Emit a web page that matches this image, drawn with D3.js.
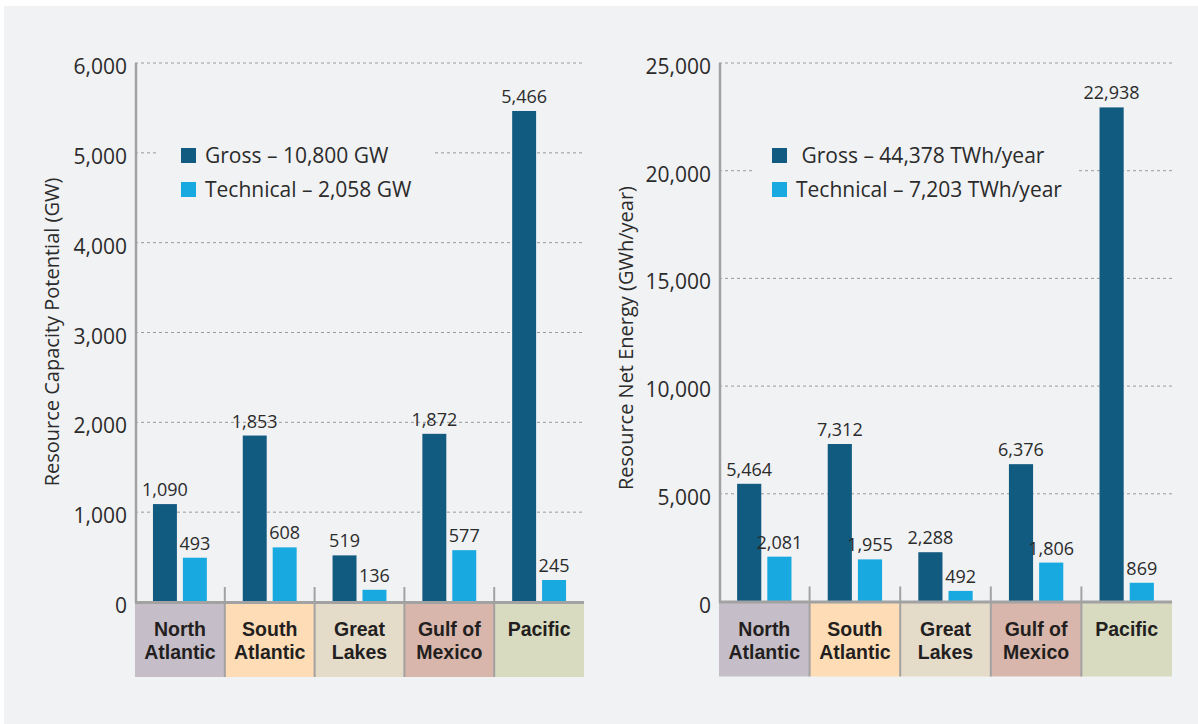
<!DOCTYPE html>
<html>
<head>
<meta charset="utf-8">
<script src="https://cdn.jsdelivr.net/npm/d3@7"></script>
<style>
  html, body { margin: 0; padding: 0; background: #ffffff; }
  svg { display: block; }
  text { font-family: "Open Sans", "DejaVu Sans", sans-serif; }
  text.cat { font-family: "Liberation Sans", Arial, sans-serif; font-weight: 700; }
</style>
</head>
<body>
<svg id="chart" width="1198" height="724"></svg>
<script>
// ---- data ----
const categories = ["North Atlantic", "South Atlantic", "Great Lakes", "Gulf of Mexico", "Pacific"];
const categoryLines = [["North", "Atlantic"], ["South", "Atlantic"], ["Great", "Lakes"], ["Gulf of", "Mexico"], ["Pacific"]];
const seriesNames = ["Gross", "Technical"];

const capacityGross = [1090, 1853, 519, 1872, 5466];
const capacityTechnical = [493, 608, 136, 577, 245];
const capacityTicks = [0, 1000, 2000, 3000, 4000, 5000, 6000];
const capacityLegend = ["Gross \u2013 10,800 GW", "Technical \u2013 2,058 GW"];
const capacityTitle = "Resource Capacity Potential (GW)";

const energyGross = [5464, 7312, 2288, 6376, 22938];
const energyTechnical = [2081, 1955, 492, 1806, 869];
const energyTicks = [0, 5000, 10000, 15000, 20000, 25000];
const energyLegend = [" Gross \u2013 44,378 TWh/year", "Technical \u2013 7,203 TWh/year"];
const energyTitle = "Resource Net Energy (GWh/year)";

// ---- styles ----
const seriesColors = ["#125b80", "#18a9e0"];
const boxColors = ["#c5bdc7", "#fedcb6", "#e5dbc9", "#d9b6ab", "#d9dbc1"];
const panelColor = "#f1f2f4";
const axisColor = "#a2a2a2";
const textColor = "#2b2b2b";

const svg = d3.select("#chart");
svg.append("rect").attr("x", 4).attr("y", 6).attr("width", 1194).attr("height", 718).attr("fill", panelColor);

const fmt = d3.format(",");

function drawChart(cfg) {
  const g = svg.append("g");
  const x = d3.scaleBand().domain(categories).range([cfg.left, cfg.right]).padding(0);
  const bw = x.bandwidth();
  const x1 = d3.scaleBand().domain(seriesNames).range([bw * 0.2, bw * 0.8]).paddingInner(0.2);
  const y = d3.scaleLinear().domain([0, cfg.ticks[cfg.ticks.length - 1]]).range([cfg.bottom, cfg.top]);

  // gridlines
  g.append("g").selectAll("line").data(cfg.ticks.filter(t => t > 0)).join("line")
    .attr("x1", cfg.left).attr("x2", cfg.right)
    .attr("y1", d => y(d)).attr("y2", d => y(d))
    .attr("stroke", "#9a9a9a").attr("stroke-width", 1).attr("stroke-dasharray", "3,3");

  // legend background (interrupts gridlines)
  g.append("rect").attr("x", cfg.legendBox[0]).attr("y", cfg.legendBox[1])
    .attr("width", cfg.legendBox[2]).attr("height", cfg.legendBox[3]).attr("fill", panelColor);

  // y tick labels
  g.append("g").selectAll("text").data(cfg.ticks).join("text")
    .attr("x", cfg.left - 8).attr("y", d => y(d) + 3)
    .attr("dominant-baseline", "central").attr("text-anchor", "end")
    .attr("font-size", 21).attr("fill", textColor).text(d => fmt(d));

  // y title
  g.append("text").attr("transform", `translate(${cfg.titleX},${cfg.titleY}) rotate(-90)`)
    .attr("text-anchor", "middle").attr("font-size", 20).attr("fill", textColor).text(cfg.title);

  // category boxes
  g.append("g").selectAll("rect").data(categories).join("rect")
    .attr("x", d => x(d)).attr("y", cfg.bottom).attr("width", bw).attr("height", 75)
    .attr("fill", (d, i) => boxColors[i]);

  // category labels (one text per line)
  const catLines = [];
  categories.forEach((c, i) => categoryLines[i].forEach((t, k) => catLines.push({ c, t, k })));
  g.append("g").selectAll("text").data(catLines).join("text")
    .attr("class", "cat")
    .attr("x", d => x(d.c) + bw / 2).attr("y", d => cfg.bottom + 34 + d.k * 23)
    .attr("text-anchor", "middle").attr("font-size", 19.5).attr("fill", "#231f20")
    .text(d => d.t);

  // separators
  g.append("g").selectAll("line").data(categories.slice(1)).join("line")
    .attr("x1", d => x(d)).attr("x2", d => x(d))
    .attr("y1", cfg.bottom - 15).attr("y2", cfg.bottom + 75)
    .attr("stroke", axisColor).attr("stroke-width", 2);

  // bars
  const rows = categories.map((c, i) => ({ c, vals: [cfg.gross[i], cfg.tech[i]] }));
  const grp = g.append("g").selectAll("g").data(rows).join("g")
    .attr("transform", d => `translate(${x(d.c)},0)`);
  grp.selectAll("rect").data(d => d.vals.map((v, j) => ({ s: seriesNames[j], v, j }))).join("rect")
    .attr("x", d => x1(d.s)).attr("width", x1.bandwidth())
    .attr("y", d => y(d.v)).attr("height", d => y(0) - y(d.v))
    .attr("fill", d => seriesColors[d.j]);
  grp.selectAll("text").data(d => d.vals.map((v, j) => ({ s: seriesNames[j], v, j }))).join("text")
    .attr("x", d => x1(d.s) + x1.bandwidth() / 2).attr("y", d => y(d.v) - 8)
    .attr("text-anchor", "middle").attr("font-size", 18).attr("fill", textColor)
    .text(d => fmt(d.v));

  // axes
  g.append("line").attr("x1", cfg.left + 1).attr("x2", cfg.left + 1).attr("y1", cfg.top).attr("y2", cfg.bottom + 1)
    .attr("stroke", axisColor).attr("stroke-width", 2.5);
  g.append("line").attr("x1", cfg.left).attr("x2", cfg.right).attr("y1", cfg.bottom + 0.5).attr("y2", cfg.bottom + 0.5)
    .attr("stroke", axisColor).attr("stroke-width", 3);

  // legend
  const lg = g.append("g");
  cfg.legend.forEach((t, i) => {
    lg.append("rect").attr("x", cfg.legendX).attr("y", 148 + i * 34).attr("width", 15).attr("height", 15)
      .attr("fill", seriesColors[i]);
    lg.append("text").attr("x", cfg.legendX + 24).attr("y", 163 + i * 34)
      .attr("font-size", 21).attr("fill", textColor).attr("xml:space", "preserve").text(t);
  });
}

drawChart({
  left: 135, right: 584, top: 63, bottom: 602,
  ticks: capacityTicks, gross: capacityGross, tech: capacityTechnical,
  legend: capacityLegend, legendX: 181, legendBox: [158, 128, 277, 84],
  title: capacityTitle, titleX: 59, titleY: 332
});
drawChart({
  left: 719, right: 1172, top: 63, bottom: 601.5,
  ticks: energyTicks, gross: energyGross, tech: energyTechnical,
  legend: energyLegend, legendX: 772, legendBox: [752, 128, 327, 84],
  title: energyTitle, titleX: 633, titleY: 338
});
</script>
</body>
</html>
